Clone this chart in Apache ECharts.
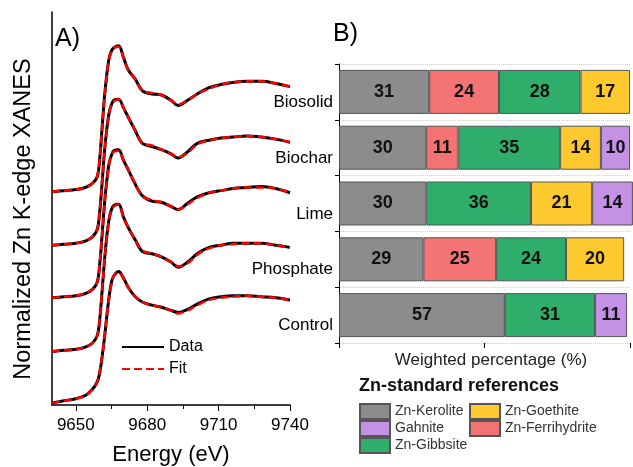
<!DOCTYPE html>
<html>
<head>
<meta charset="utf-8">
<script src="https://cdn.jsdelivr.net/npm/echarts@6.0.0/dist/echarts.min.js"></script>
<style>
  html,body{margin:0;padding:0;background:#fff;}
  #main{width:633px;height:467px;}
</style>
</head>
<body>
<div id="main"></div>
<script>
// energy grid (eV)
var energy = [9640,9645,9650,9654,9657,9659,9660,9661,9662,9663,9664,9665,9666,9668,9670,9672,9675,9678,9682,9686,9690,9693,9697,9701,9706,9711,9716,9722,9728,9734,9740];
var samples = ['Biosolid','Biochar','Lime','Phosphate','Control'];
var offsets = [2.0,1.5,1.0,0.5,0];

// normalized spectra, data and fit
var biosolidData = [0.03,0.04,0.05,0.07,0.11,0.17,0.33,0.62,0.92,1.14,1.30,1.37,1.40,1.42,1.31,1.19,1.10,0.99,0.96,0.95,0.90,0.85,0.90,0.96,1.02,1.05,1.07,1.08,1.08,1.06,1.03];
var biosolidFit  = [0.03,0.04,0.05,0.07,0.11,0.18,0.34,0.62,0.91,1.13,1.29,1.37,1.40,1.41,1.31,1.19,1.10,0.99,0.97,0.95,0.90,0.86,0.90,0.96,1.01,1.05,1.07,1.08,1.08,1.06,1.03];
var biocharData  = [0.02,0.03,0.04,0.06,0.10,0.17,0.33,0.60,0.90,1.12,1.28,1.36,1.40,1.41,1.33,1.24,1.11,0.99,0.96,0.93,0.89,0.85,0.91,0.99,1.02,1.04,1.05,1.06,1.05,1.03,1.00];
var biocharFit   = [0.02,0.03,0.04,0.06,0.10,0.17,0.33,0.60,0.89,1.12,1.28,1.36,1.39,1.41,1.33,1.24,1.11,0.99,0.97,0.93,0.89,0.86,0.90,0.98,1.02,1.04,1.05,1.06,1.05,1.03,1.00];
var limeData     = [0.02,0.03,0.04,0.06,0.10,0.17,0.33,0.60,0.90,1.13,1.30,1.38,1.42,1.43,1.33,1.24,1.10,0.99,0.94,0.93,0.89,0.86,0.92,0.98,1.02,1.04,1.06,1.07,1.08,1.06,1.02];
var limeFit      = [0.02,0.03,0.04,0.06,0.10,0.17,0.33,0.60,0.90,1.12,1.29,1.38,1.41,1.42,1.33,1.24,1.10,0.99,0.95,0.93,0.89,0.86,0.91,0.97,1.02,1.04,1.06,1.07,1.07,1.06,1.02];
var phosData     = [0.01,0.02,0.03,0.05,0.09,0.16,0.30,0.57,0.86,1.10,1.27,1.36,1.40,1.41,1.29,1.19,1.07,0.96,0.94,0.91,0.86,0.81,0.86,0.94,1.00,1.02,1.04,1.04,1.04,1.02,1.00];
var phosFit      = [0.01,0.02,0.03,0.05,0.09,0.16,0.31,0.57,0.86,1.09,1.27,1.36,1.39,1.41,1.29,1.19,1.07,0.97,0.94,0.91,0.86,0.82,0.85,0.93,0.99,1.02,1.03,1.04,1.04,1.02,1.00];
var controlData  = [0.02,0.04,0.06,0.09,0.15,0.22,0.30,0.45,0.63,0.84,1.03,1.17,1.23,1.27,1.21,1.12,1.03,0.98,0.95,0.93,0.90,0.88,0.91,0.96,1.01,1.03,1.04,1.04,1.03,1.02,1.00];
var controlFit   = [0.02,0.04,0.06,0.09,0.15,0.22,0.31,0.45,0.63,0.84,1.02,1.16,1.23,1.26,1.21,1.12,1.03,0.98,0.95,0.93,0.90,0.87,0.90,0.95,1.00,1.02,1.03,1.04,1.03,1.02,1.00];
var spectraData = [biosolidData,biocharData,limeData,phosData,controlData];
var spectraFit  = [biosolidFit,biocharFit,limeFit,phosFit,controlFit];

var energyTicks = [9650,9680,9710,9740];
var energyMinorTicks = [9665,9695,9725];

// weighted percentages, panel B (null = not present)
var kerolite     = [31,30,30,29,57];
var ferrihydrite = [24,11,null,25,null];
var gibbsite     = [28,35,36,24,31];
var goethite     = [17,14,21,20,null];
var gahnite      = [null,10,14,null,11];

var font = 'Liberation Sans, Arial, sans-serif';
var chart = echarts.init(document.getElementById('main'));

function pairs(arr, off){
	var out = [];
	for(var i=0;i<energy.length;i++){
		out.push([energy[i], +(arr[i]+off).toFixed(3)]);
	}
	return out;
}

var series = [];
for(var i=0;i<samples.length;i++){
	series.push({
		name:'Data', type:'line', xAxisIndex:0, yAxisIndex:0,
		data:pairs(spectraData[i],offsets[i]),
		showSymbol:false, symbol:'none', smooth:0.35,
		lineStyle:{color:'#000',width:3}, itemStyle:{color:'#000'},
		z:2, silent:true
	});
}
for(var i=0;i<samples.length;i++){
	series.push({
		name:'Fit', type:'line', xAxisIndex:0, yAxisIndex:0,
		data:pairs(spectraFit[i],offsets[i]),
		showSymbol:false, symbol:'none', smooth:0.35,
		lineStyle:{color:'#ff0000',width:2.5,type:[8,4]}, itemStyle:{color:'#ff0000'},
		z:3, silent:true
	});
}

function bar(name, values, color){
	return {
		name:name, type:'bar', stack:'pct', xAxisIndex:1, yAxisIndex:1,
		data:values, barWidth:44, clip:false,
		itemStyle:{color:color, borderColor:'#555', borderWidth:1},
		label:{show:true, position:'inside', fontFamily:font, fontSize:18, fontWeight:'bold', color:'#111'},
		silent:true
	};
}
series.push(bar('Zn-Kerolite', kerolite, '#8c8c8c'));
series.push(bar('Zn-Ferrihydrite', ferrihydrite, '#f47373'));
series.push(bar('Zn-Gibbsite', gibbsite, '#2fae6b'));
series.push(bar('Zn-Goethite', goethite, '#fec92e'));
series.push(bar('Gahnite', gahnite, '#c591e4'));

var option = {
	animation:false,
	textStyle:{fontFamily:font},
	grid:[
		{left:52, top:12, width:238, height:393, outerBoundsMode:'none'},
		{left:339, top:64, width:291, height:279, outerBoundsMode:'none'}
	],
	xAxis:[
		{
			gridIndex:0, type:'value', min:9640, max:9740, position:'bottom',
			axisLine:{lineStyle:{color:'#000',width:1.5}},
			axisTick:{show:true, customValues:energyTicks, length:6, lineStyle:{color:'#000'}},
			axisLabel:{customValues:energyTicks, fontSize:17, color:'#000', margin:12, fontFamily:font,
				formatter:function(v){ return String(v); }},
			splitLine:{show:false},
			name:'Energy (eV)', nameLocation:'middle', nameGap:39,
			nameTextStyle:{fontSize:22, color:'#000', fontFamily:font}
		},
		{
			gridIndex:1, type:'value', min:0, max:100, interval:50,
			axisLine:{lineStyle:{color:'#000'}},
			axisTick:{show:true, length:5, lineStyle:{color:'#000'}},
			axisLabel:{show:false},
			splitLine:{show:false},
			name:'Weighted percentage (%)', nameLocation:'middle', nameGap:9,
			nameTextStyle:{fontSize:17, color:'#222', fontFamily:font, padding:[0,0,0,13]}
		},
		{
			// minor ticks only
			gridIndex:0, type:'value', min:9640, max:9740, position:'bottom', offset:0,
			axisLine:{show:false},
			axisTick:{show:true, customValues:energyMinorTicks, length:4, lineStyle:{color:'#000'}},
			axisLabel:{show:false}, splitLine:{show:false}
		}
	],
	yAxis:[
		{
			gridIndex:0, type:'value', min:0, max:3.74,
			axisLine:{show:true, lineStyle:{color:'#000',width:1.5}},
			axisTick:{show:false}, axisLabel:{show:false}, splitLine:{show:false}
		},
		{
			gridIndex:1, type:'category', inverse:true, data:samples,
			axisLine:{show:true, lineStyle:{color:'#000'}},
			axisTick:{show:true, length:4, lineStyle:{color:'#000'}},
			axisLabel:{fontSize:17, color:'#000', margin:6, verticalAlign:'top', lineHeight:21, fontFamily:font},
			splitLine:{show:true, lineStyle:{type:'dotted', color:'#ccc'}}
		}
	],
	legend:[
		{
			data:['Data','Fit'], orient:'vertical', left:116, top:334,
			itemWidth:42, itemHeight:12, itemGap:6, selectedMode:false,
			itemStyle:{opacity:0},
			textStyle:{fontSize:16, color:'#000', fontFamily:font}
		},
		{
			data:['Zn-Kerolite','Gahnite','Zn-Gibbsite'], orient:'vertical', left:359, top:403,
			padding:0, icon:'rect', itemWidth:30, itemHeight:15, itemGap:0, selectedMode:false,
			textStyle:{fontSize:14, color:'#333', fontFamily:font}
		},
		{
			data:['Zn-Goethite','Zn-Ferrihydrite'], orient:'vertical', left:469, top:403,
			padding:0, icon:'rect', itemWidth:30, itemHeight:15, itemGap:0, selectedMode:false,
			textStyle:{fontSize:14, color:'#333', fontFamily:font}
		}
	],
	graphic:[
		{type:'text', left:55, top:27, style:{text:'A)', fontSize:25, fill:'#000', fontFamily:font}},
		{type:'text', left:333, top:22, style:{text:'B)', fontSize:25, fill:'#000', fontFamily:font}},
		{type:'text', x:24, y:219, rotation:Math.PI/2,
			style:{text:'Normalized Zn K-edge XANES', fontSize:23.5, fill:'#000', fontFamily:font, align:'center', verticalAlign:'middle'}},
		{type:'text', left:359, top:377, style:{text:'Zn-standard references', fontSize:18, fontWeight:'bold', fill:'#111', fontFamily:font}}
	],
	series:series
};
chart.setOption(option);
</script>
</body>
</html>
